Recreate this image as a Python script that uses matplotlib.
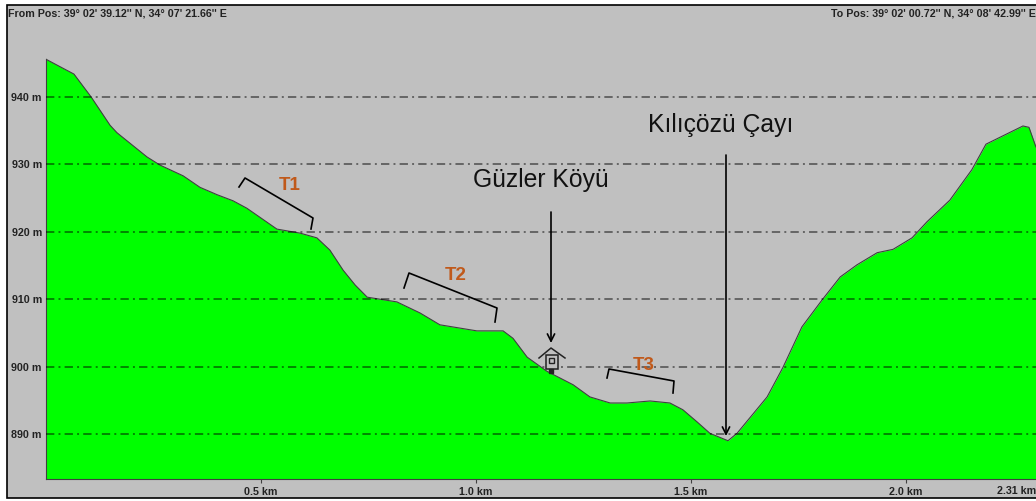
import matplotlib
matplotlib.use('Agg')
import matplotlib.pyplot as plt
from matplotlib.patches import Rectangle, Polygon

plt.rcParams['font.family'] = ['Liberation Sans', 'DejaVu Sans']
plt.rcParams['lines.scale_dashes'] = False

# Elevation profile
dist_km = [0, .065, .105, .149, .165, .235, .265, .319, .358, .398, .435, .467, .537, .591, .630, .660, .691,
           .719, .747, .816, .870, .916, 1.002, 1.063, 1.086, 1.119, 1.165, 1.226, 1.265, 1.312, 1.351, 1.405,
           1.451, 1.481, 1.514, 1.544, 1.586, 1.607, 1.677, 1.714, 1.758, 1.805, 1.847, 1.886, 1.933, 1.970,
           2.014, 2.049, 2.102, 2.153, 2.186, 2.272, 2.286, 2.302]
elev_m = [945.6, 943.4, 940, 935.8, 934.7, 931.1, 929.9, 928.3, 926.6, 925.5, 924.6, 923.5, 920.4, 919.8,
          919.1, 917.3, 914.3, 912.1, 910.3, 909.6, 907.95, 906.2, 905.3, 905.3, 904.2, 901.4, 899.3, 897.3,
          895.5, 894.6, 894.6, 894.9, 894.6, 893.6, 891.8, 890.1, 889.0, 890.1, 895.5, 899.9, 905.9, 909.9,
          913.3, 915.1, 916.9, 917.4, 919.1, 921.5, 924.7, 929.2, 933.0, 935.7, 935.5, 932.6]
y_ticks = [890, 900, 910, 920, 930, 940]
x_ticks = [0.5, 1.0, 1.5, 2.0]
from_pos = "From Pos: 39° 02' 39.12'' N, 34° 07' 21.66'' E"
to_pos = "To Pos: 39° 02' 00.72'' N, 34° 08' 42.99'' E"
end_label = "2.31 km"

W, H = 1036, 501
DARK = '#404040'
GRAY = '#c0c0c0'
ORANGE = '#c0591a'
SMALL = 7.7

fig = plt.figure(figsize=(W/100, H/100), dpi=100, facecolor='white')

# background panel, in pixels
bg = fig.add_axes([0, 0, 1, 1], zorder=0)
bg.set_xlim(0, W)
bg.set_ylim(H, 0)
bg.axis('off')
bg.add_patch(Rectangle((7, 4.5), W, 493.5, facecolor=GRAY, edgecolor='black', lw=1.2))

# main chart
left, right, top, bottom = 46, W, 5, 479
ax = fig.add_axes([left/W, 1-bottom/H, (right-left)/W, (bottom-top)/H], zorder=1)
ax.patch.set_visible(False)
ax.set_xlim(0, (right-left)/430)
ax.set_ylim(940-(bottom-97)/6.74, 940+(97-top)/6.74)
ax.fill_between(dist_km, elev_m, ax.get_ylim()[0], color='#00ff00', lw=0)
ax.plot(dist_km, elev_m, color=DARK, lw=0.8)
for s in ['top', 'right']:
    ax.spines[s].set_visible(False)
ax.spines['left'].set_bounds(ax.get_ylim()[0], elev_m[0])
ax.spines['left'].set_color(DARK)
ax.spines['bottom'].set_color(DARK)
ax.set_yticks(y_ticks, [str(v) + ' m' for v in y_ticks], fontsize=SMALL, fontweight='bold', color='#222222')
ax.set_xticks(x_ticks, [f'{v} km' for v in x_ticks], fontsize=SMALL, fontweight='bold', color='#222222')
ax.tick_params(axis='y', length=0, pad=3)
ax.tick_params(axis='x', length=3, width=0.8, color=DARK, pad=2.5)
ax.set_axisbelow(False)
ax.grid(axis='y', color='black', alpha=0.6, lw=1.1, linestyle=(0, (6, 3, 1.4, 3)))

# annotations, in pixels
top_ax = fig.add_axes([0, 0, 1, 1], zorder=2)
top_ax.set_xlim(0, W)
top_ax.set_ylim(H, 0)
top_ax.axis('off')

top_ax.text(8, 13, from_pos, fontsize=SMALL, fontweight='bold', color='#222222', va='center', ha='left')
top_ax.text(W, 13, to_pos, fontsize=SMALL, fontweight='bold', color='#222222', va='center', ha='right')
top_ax.text(W, 491, end_label, fontsize=SMALL, fontweight='bold', color='#222222', va='center', ha='right')

top_ax.plot([239, 245, 313, 311], [187, 178, 218, 229], color='black', lw=1.2)
top_ax.plot([404, 409, 497, 495], [288, 273, 308, 322], color='black', lw=1.2)
top_ax.plot([607, 609, 674, 673], [378, 369, 381, 393], color='black', lw=1.2)
top_ax.text(289.5, 186, 'T1', fontsize=13.5, fontweight='bold', color=ORANGE, ha='center', va='center')
top_ax.text(456, 276, 'T2', fontsize=13.5, fontweight='bold', color=ORANGE, ha='center', va='center')
top_ax.text(644, 365, 'T3', fontsize=13.5, fontweight='bold', color=ORANGE, ha='center', va='center')

top_ax.text(541, 180, 'Güzler Köyü', fontsize=17.8, color='#111111', ha='center', va='center')
top_ax.text(721, 125, 'Kılıçözü Çayı', fontsize=17.8, color='#111111', ha='center', va='center')
top_ax.annotate('', xy=(551, 343), xytext=(551, 212),
                arrowprops=dict(arrowstyle='->', color='black', lw=1.2, shrinkA=0, shrinkB=0, mutation_scale=13))
top_ax.annotate('', xy=(726, 436), xytext=(726, 155),
                arrowprops=dict(arrowstyle='->', color='black', lw=1.2, shrinkA=0, shrinkB=0, mutation_scale=13))

# little house symbol
top_ax.add_patch(Polygon([(546, 355), (558, 355), (558, 369), (546, 369)], facecolor=GRAY, edgecolor='#222222', lw=1.1))
top_ax.add_patch(Rectangle((549, 358), 5, 5, facecolor=GRAY, edgecolor='#222222', lw=1))
top_ax.plot([539, 551, 565], [358, 348, 358], color='#222222', lw=1.1)
top_ax.plot([551], [370.5], marker='s', ms=2.2, color='#222222')

fig.savefig('out.png', dpi=100)
